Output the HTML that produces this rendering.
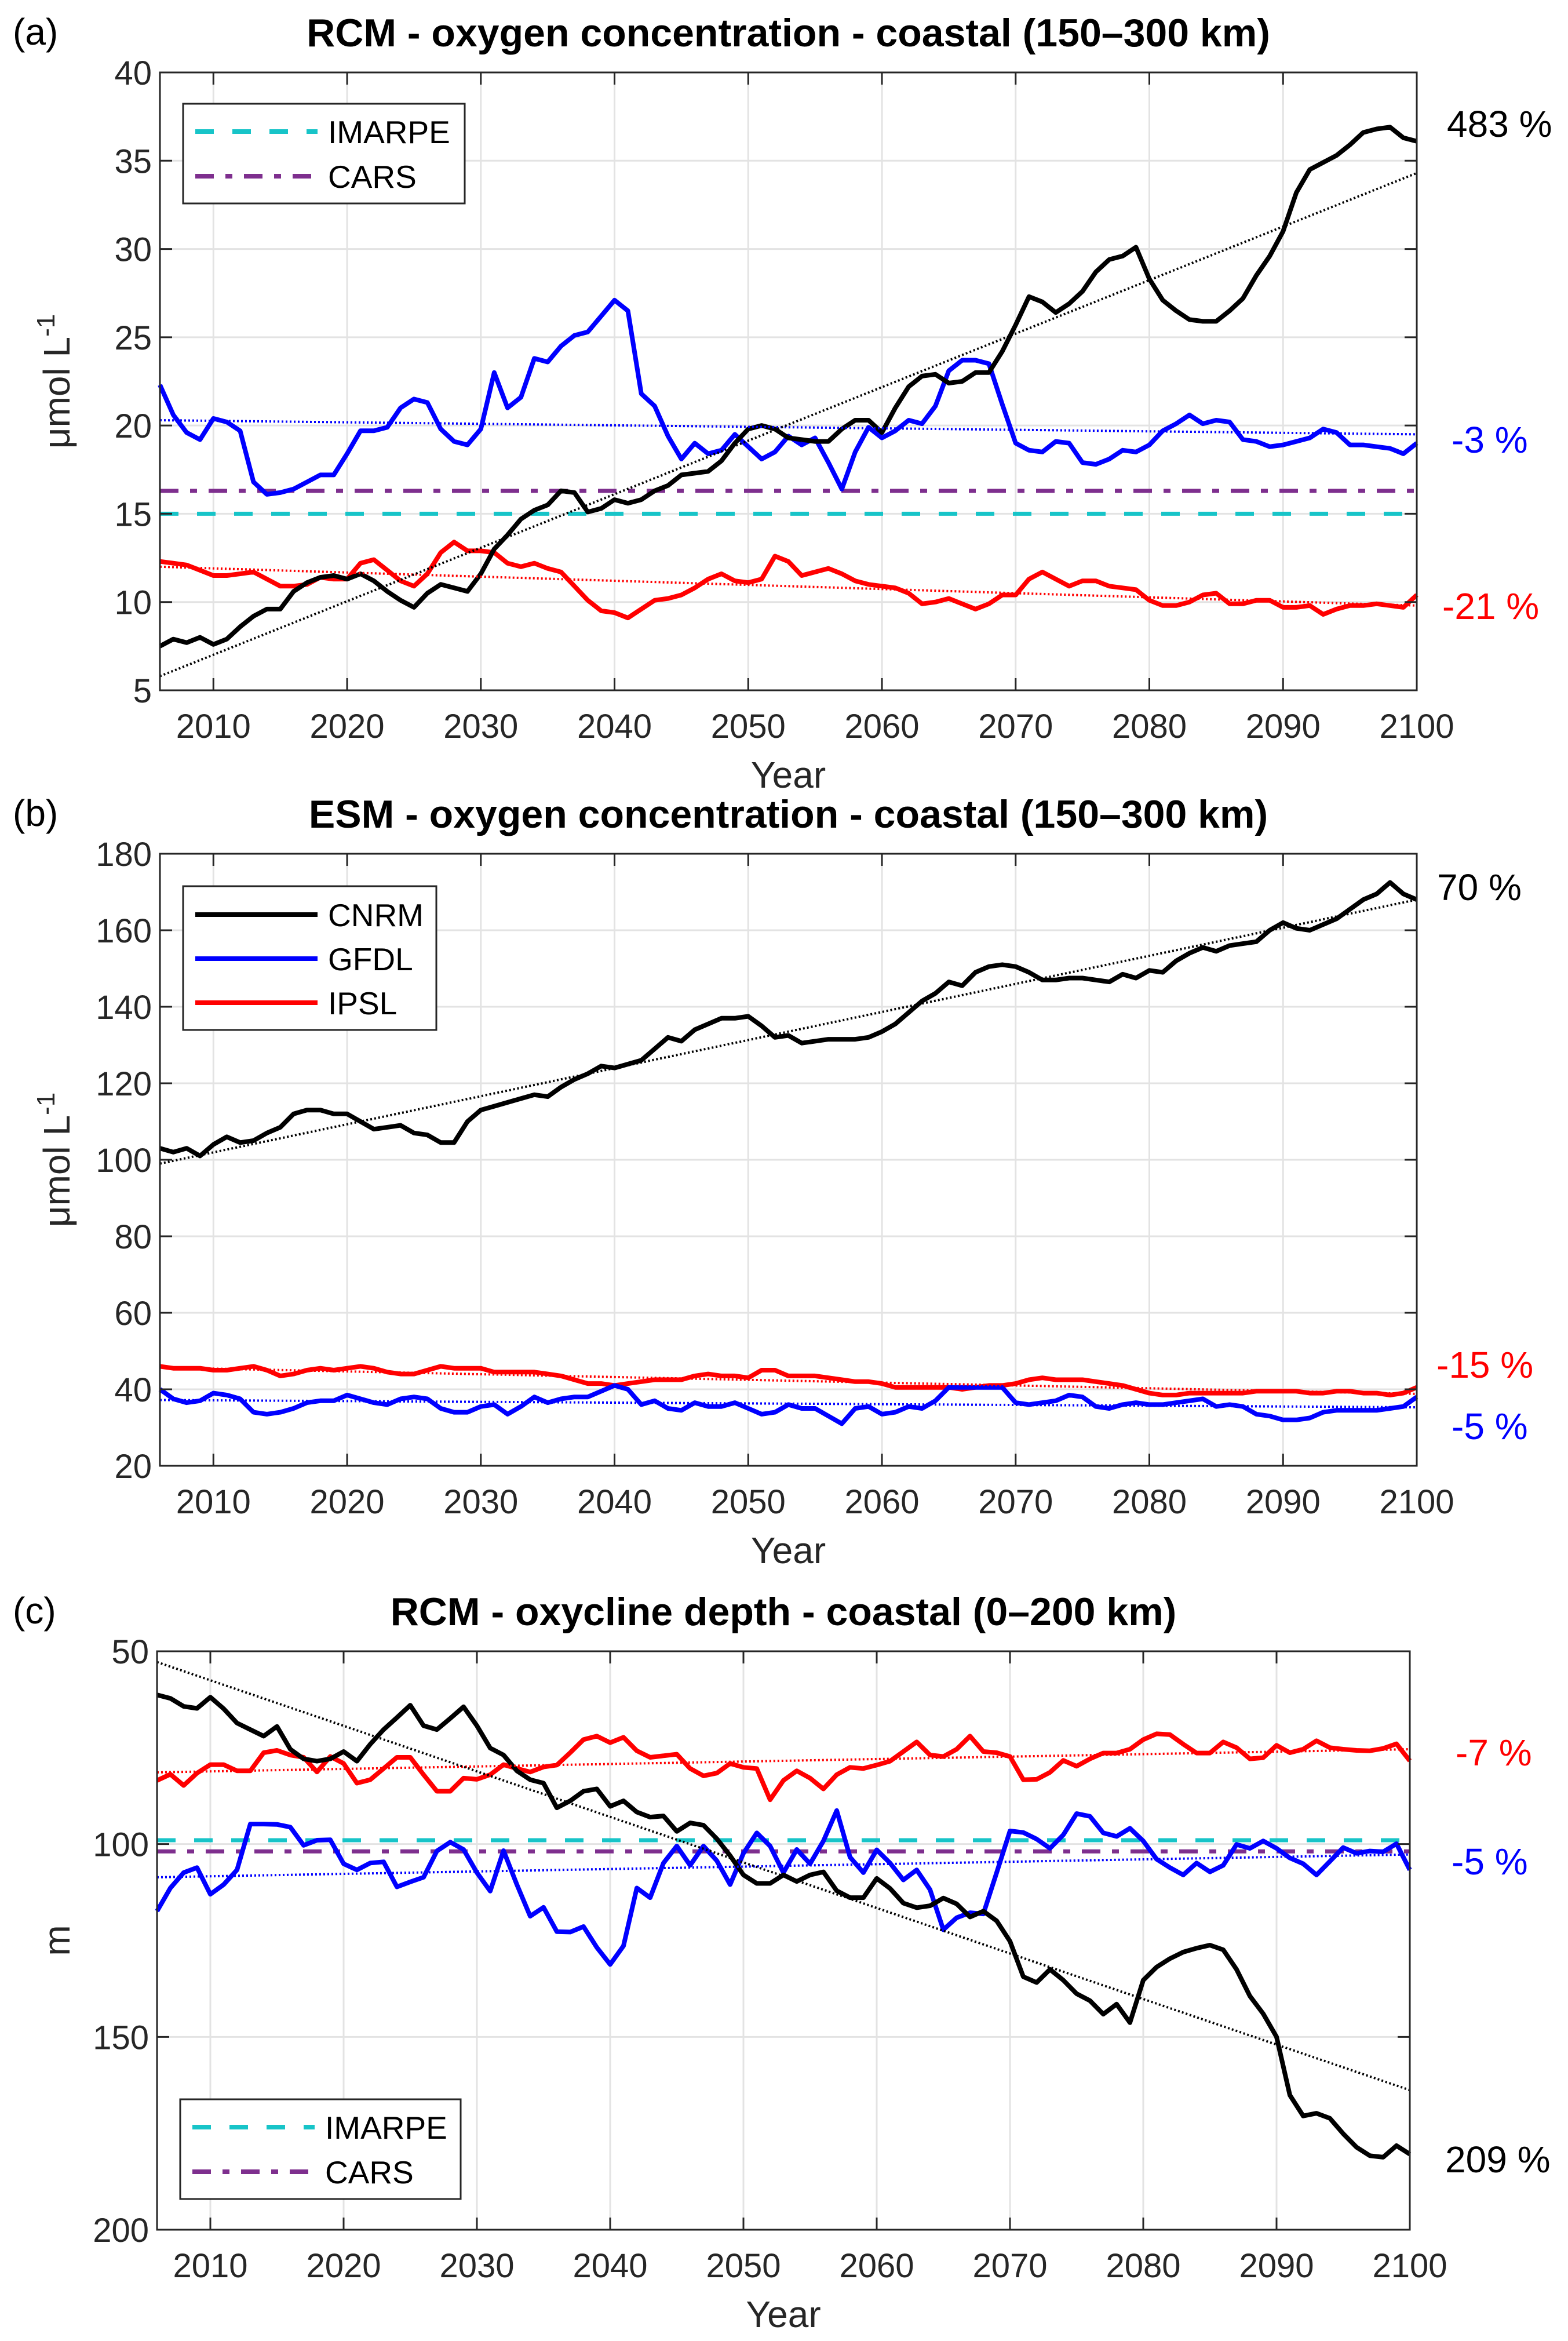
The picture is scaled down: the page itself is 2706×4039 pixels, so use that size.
<!DOCTYPE html>
<html><head><meta charset="utf-8"><style>
html,body{margin:0;padding:0;background:#fff;}
svg{display:block;font-family:"Liberation Sans",Arial,sans-serif;}
</style></head><body>
<svg id="fig" width="2706" height="4039" viewBox="0 0 2706 4039" xmlns="http://www.w3.org/2000/svg"></svg>
<script>
const years = []; for (let y = 2006; y <= 2100; y++) years.push(y);
const xTicks = [2010,2020,2030,2040,2050,2060,2070,2080,2090,2100];

// Panel (a) RCM oxygen
const aTicks = [5,10,15,20,25,30,35,40];
const aCNRM = [7.5,7.9,7.7,8.0,7.6,7.9,8.6,9.2,9.6,9.6, 10.6,11.1,11.4,11.5,11.3,11.6,11.2,10.6,10.1,9.7, 10.5,11.0,10.8,10.6,11.6,13.0,13.8,14.7,15.2,15.5, 16.3,16.2,15.1,15.3,15.8,15.6,15.8,16.3,16.6,17.2, 17.3,17.4,18.0,19.0,19.8,20.0,19.8,19.3,19.2,19.1, 19.1,19.8,20.3,20.3,19.6,21.0,22.2,22.8,22.9,22.4, 22.5,23.0,23.0,24.2,25.7,27.3,27.0,26.4,26.9,27.6, 28.7,29.4,29.6,30.1,28.3,27.1,26.5,26.0,25.9,25.9, 26.5,27.2,28.5,29.6,31.0,33.2,34.5,34.9,35.3,35.9, 36.6,36.8,36.9,36.3,36.1];
const aGFDL = [22.3,20.6,19.6,19.2,20.4,20.2,19.7,16.8,16.1,16.2, 16.4,16.8,17.2,17.2,18.4,19.7,19.7,19.9,21.0,21.5, 21.3,19.8,19.1,18.9,19.8,23.0,21.0,21.6,23.8,23.6, 24.5,25.1,25.3,26.2,27.1,26.5,21.8,21.1,19.4,18.1, 19.0,18.4,18.6,19.5,18.8,18.1,18.5,19.4,18.9,19.3, 17.9,16.4,18.5,19.9,19.3,19.7,20.3,20.1,21.1,23.1, 23.7,23.7,23.5,21.2,19.0,18.6,18.5,19.1,19.0,17.9, 17.8,18.1,18.6,18.5,18.9,19.7,20.1,20.6,20.1,20.3, 20.2,19.2,19.1,18.8,18.9,19.1,19.3,19.8,19.6,18.9, 18.9,18.8,18.7,18.4,19.0];
const aIPSL = [12.3,12.2,12.1,11.8,11.5,11.5,11.6,11.7,11.3,10.9, 10.9,11.0,11.4,11.3,11.3,12.2,12.4,11.8,11.2,10.9, 11.6,12.8,13.4,12.9,12.9,12.8,12.2,12.0,12.2,11.9, 11.7,10.9,10.1,9.5,9.4,9.1,9.6,10.1,10.2,10.4, 10.8,11.3,11.6,11.2,11.1,11.3,12.6,12.3,11.5,11.7, 11.9,11.6,11.2,11.0,10.9,10.8,10.5,9.9,10.0,10.2, 9.9,9.6,9.9,10.4,10.4,11.3,11.7,11.3,10.9,11.2, 11.2,10.9,10.8,10.7,10.1,9.8,9.8,10.0,10.4,10.5, 9.9,9.9,10.1,10.1,9.7,9.7,9.8,9.3,9.6,9.8, 9.8,9.9,9.8,9.7,10.4];
const aTrendCNRM = [5.8,34.3], aTrendGFDL = [20.3,19.5], aTrendIPSL = [12.0,9.8];
const aIMARPE = 15.0, aCARS = 16.3;

// Panel (b) ESM oxygen
const bTicks = [20,40,60,80,100,120,140,160,180];
const bCNRM = [103,102,103,101,104,106,104.5,105,107,108.5, 112,113,113,112,112,110,108,108.5,109,107, 106.5,104.5,104.5,110,113,114,115,116,117,116.5, 119,121,122.5,124.5,124,125,126,129,132,131, 134,135.5,137,137,137.5,135,132,132.5,130.5,131, 131.5,131.5,131.5,132,133.5,135.5,138.5,141.5,143.5,146.5, 145.5,149,150.5,151,150.5,149,147,147,147.5,147.5, 147,146.5,148.5,147.5,149.5,149,152,154,155.5,154.5, 156,156.5,157,160,162,160.5,160,161.5,163,165.5, 168,169.5,172.5,169.5,168];
const bGFDL = [40,37.5,36.5,37,39,38.5,37.5,34,33.5,34, 35,36.5,37,37,38.5,37.5,36.5,36,37.5,38, 37.5,35,34,34,35.5,36,33.5,35.5,38,36.5, 37.5,38,38,39.5,41,40,36,37,35,34.5, 36.5,35.5,35.5,36.5,35,33.5,34,36,35,35, 33,31,35,35.5,33.5,34,35.5,35,37,40.5, 40.5,40.5,40.5,40.5,36.5,36,36.5,37,38.5,38, 35.5,35,36,36.5,36,36,36.5,37,37.5,35.5, 36,35.5,33.5,33,32,32,32.5,34,34.5,34.5, 34.5,34.5,35,35.5,38];
const bIPSL = [46,45.5,45.5,45.5,45,45,45.5,46,45,43.5, 44,45,45.5,45,45.5,46,45.5,44.5,44,44, 45,46,45.5,45.5,45.5,44.5,44.5,44.5,44.5,44, 43.5,42.5,41.5,41.5,41,41.5,42,42.5,42.5,42.5, 43.5,44,43.5,43.5,43,45,45,43.5,43.5,43.5, 43,42.5,42,42,41.5,40.5,40.5,40.5,40.5,40.5, 40,40.5,41,41,41.5,42.5,43,42.5,42.5,42.5, 42,41.5,41,40,39,38.5,38.5,39,39,39, 39,39,39.5,39.5,39.5,39.5,39,39,39.5,39.5, 39,39,38.5,39,40.5];
const bTrendCNRM = [99,168], bTrendGFDL = [37.2,35.3], bTrendIPSL = [45.7,38.8];

// Panel (c) RCM oxycline depth
const cTicks = [50,100,150,200];
const cCNRM = [61.3,62.2,64.3,64.8,61.9,64.9,68.6,70.3,72,69.5, 75.4,77.9,78.5,77.9,76,78.5,74.1,70.3,67.2,64, 69.3,70.3,67.4,64.4,69.3,75.1,76.9,81,83.3,84.2, 90.6,88.8,86.3,85.7,90.2,88.8,91.7,93,92.7,96.7, 94.5,95.1,98.6,103,108,110.2,110.2,108,109.7,108, 107.2,112.1,113.9,113.9,108.9,111.5,115.3,116.5,116,114, 115.5,118.9,117.4,119.9,125.2,134.4,135.9,132.5,135.3,138.8, 140.6,144.1,141.5,146.3,135.3,131.9,129.7,128,127,126.2, 127.4,132.5,139.4,144,150,165.1,170.5,169.8,171.1,175.1, 178.6,180.8,181.2,178.2,180.4];
const cGFDL = [117.4,111.4,107.4,106.1,113,110.5,106.7,94.8,94.8,94.9, 95.6,100.3,99,98.9,105.1,106.7,104.9,104.6,111.1,109.8, 108.6,101.8,99.5,101.4,107.4,112.2,101.7,110.5,118.7,116.4, 122.7,122.8,121.4,126.8,131.2,126.4,111.4,113.9,104.9,100.5, 105.5,100.5,104.3,110.5,102.4,97.1,100.5,107.4,101.4,105.1, 99.2,91.3,103.4,107.4,101.5,104.9,109.3,106.7,111.8,122.2, 119.1,117.8,118.1,107.4,96.6,97,98.7,101.1,97.6,92.1, 92.8,97.1,98,95.9,99.2,103.9,106.1,108,104.9,107.2, 105.5,100.1,101.1,99.2,101.1,103.6,105.1,108,104.5,100.9, 102.4,101.8,102,99.9,106.7];
const cIPSL = [83.5,81.9,84.8,81.6,79.4,79.4,81,81,76.3,75.7, 76.9,77.5,81.3,77.3,79.1,84.2,83.3,80.4,77.5,77.5, 82,86.3,86.3,82.9,83.2,82,79.4,80.4,81.3,80, 79.5,76.3,72.9,72,73.7,72.3,75.8,77.5,77.1,76.7, 80.4,82.3,81.6,79.1,80.1,80.4,88.5,83.5,81,82.9, 85.7,82,80.1,80.4,79.5,78.5,76,73.5,76.9,77.3, 75.4,72,76,76.3,77.3,83.3,83.2,81.4,78.3,79.8, 77.9,76.4,76.4,75.4,72.9,71.4,71.6,74.1,76.4,76.4, 73.5,75,77.9,77.6,74.4,76.3,75.4,73.2,75,75.4, 75.7,75.8,75.2,74,78.4];
const cTrendCNRM = [52.8,163.8], cTrendGFDL = [108.6,102.7], cTrendIPSL = [81.4,75.4];
const cIMARPE = 99.0, cCARS = 101.9;

const NS = "http://www.w3.org/2000/svg";
const svg = document.getElementById('fig');
function mk(tag, attrs, parent) {
  const e = document.createElementNS(NS, tag);
  for (const k in attrs) e.setAttribute(k, attrs[k]);
  (parent || svg).appendChild(e);
  return e;
}
const BLK = "#000", BLU = "#0000ff", RED = "#ff0000", CYAN = "#17c4c8", PURP = "#7e2f8e";

function panel(P) {
  const g = mk('g', {});
  
  
  const xS = v => P.L + (v - 2006) / 94 * (P.R - P.L);
  const yS = v => P.rev ? P.T + (v - P.ymin) / (P.ymax - P.ymin) * (P.B - P.T)
                        : P.B - (v - P.ymin) / (P.ymax - P.ymin) * (P.B - P.T);
  xTicks.forEach(t => { const l = mk('line', {x1:xS(t),x2:xS(t),y1:P.T,y2:P.B,stroke:'#e3e3e3','stroke-width':3}, g);
      });
  P.yt.forEach(t => { const l = mk('line', {x1:P.L,x2:P.R,y1:yS(t),y2:yS(t),stroke:'#e3e3e3','stroke-width':3}, g);
      });
  const line = (arr, col, w, nm) => {
    const d = arr.map((v,i) => (i?'L':'M') + xS(years[i]).toFixed(1) + ' ' + yS(v).toFixed(1)).join(' ');
    const p = mk('path', {d, fill:'none', stroke:col, 'stroke-width':w, 'stroke-linejoin':'round'}, g);
     
  };
  const trend = (tr, col, nm) => {
    const l = mk('line', {x1:xS(2006),y1:yS(tr[0]),x2:xS(2100),y2:yS(tr[1]),stroke:col,'stroke-width':4,'stroke-dasharray':'3 4'}, g);
     
  };
  const hline = (v, col, dash, nm) => {
    const l = mk('line', {x1:P.L,x2:P.R,y1:yS(v),y2:yS(v),stroke:col,'stroke-width':7,'stroke-dasharray':dash}, g);
     
  };
  if (P.obs) { hline(P.obs[1], PURP, '32 20 12 20', 'cars-line'); hline(P.obs[0], CYAN, '32 32', 'imarpe-line'); }
  P.series.forEach(s => { line(s[0], s[1], 8, s[2]); });
  P.trends.forEach(s => trend(s[0], s[1], s[2]));
  const box = mk('rect', {x:P.L,y:P.T,width:P.R-P.L,height:P.B-P.T,fill:'none',stroke:'#262626','stroke-width':3}, g);
   
  xTicks.forEach(t => {
    mk('line',{x1:xS(t),x2:xS(t),y1:P.B,y2:P.B-21,stroke:'#262626','stroke-width':3},g);
    mk('line',{x1:xS(t),x2:xS(t),y1:P.T,y2:P.T+21,stroke:'#262626','stroke-width':3},g);
    const tx = mk('text',{x:xS(t),y:P.B+82,'text-anchor':'middle','font-size':58,fill:'#262626'},g);
    tx.textContent = t;  
  });
  P.yt.forEach(t => {
    mk('line',{x1:P.L,x2:P.L+21,y1:yS(t),y2:yS(t),stroke:'#262626','stroke-width':3},g);
    mk('line',{x1:P.R,x2:P.R-21,y1:yS(t),y2:yS(t),stroke:'#262626','stroke-width':3},g);
    const tx = mk('text',{x:P.L-14,y:yS(t)+21,'text-anchor':'end','font-size':58,fill:'#262626'},g);
    tx.textContent = t;  
  });
  const xl = mk('text',{x:(P.L+P.R)/2,y:P.B+168,'text-anchor':'middle','font-size':64,fill:'#262626'},g);
  xl.textContent = 'Year';  
  const yc = (P.T+P.B)/2;
  const yl = mk('text',{x:0,y:0,transform:`translate(120 ${yc}) rotate(-90)`,'text-anchor':'middle','font-size':64,fill:'#262626'},g);
  if (P.ylab === 'm') yl.textContent = 'm';
  else { yl.textContent = 'μmol L'; const ts = mk('tspan',{dy:-26,'font-size':44},yl); ts.textContent='-1'; }
   
  const tt = mk('text',{x:(P.L+P.R)/2,y:P.T-45,'text-anchor':'middle','font-size':68,'font-weight':'bold',fill:'#000'},g);
  tt.textContent = P.title;  
  const pl = mk('text',{x:22,y:P.T-48,'font-size':64,fill:'#000'},g);
  pl.textContent = P.tag;  
  P.ann.forEach(a => {
    const t = mk('text',{x:a[2],y:a[1]+22,'font-size':64,fill:a[3]},g);
    t.textContent = a[0];  
  });
  const Lg = P.leg;
  const lb = mk('rect',{x:Lg.x,y:Lg.y,width:Lg.w,height:Lg.h,fill:'#fff',stroke:'#262626','stroke-width':3},g);
   
  Lg.items.forEach((it,i) => {
    const yy = Lg.y + Lg.first + i*Lg.step;
    const l = mk('line',{x1:Lg.x+21,x2:Lg.x+232,y1:yy,y2:yy,stroke:it[1],'stroke-width':8,'stroke-dasharray':it[2]},g);
     
    const t = mk('text',{x:Lg.x+250,y:yy+20,'font-size':55,fill:'#000'},g);
    t.textContent = it[0];  
  });
}

panel({name:'panel-a', tag:'(a)', title:'RCM - oxygen concentration - coastal (150–300 km)', L:276,R:2445,T:125,B:1191, ymin:5,ymax:40, yt:aTicks, ylab:'u',
  obs:[aIMARPE,aCARS],
  series:[[aIPSL,RED,'ipsl-line'],[aGFDL,BLU,'gfdl-line'],[aCNRM,BLK,'cnrm-line']],
  trends:[[aTrendIPSL,RED,'ipsl-trend'],[aTrendGFDL,BLU,'gfdl-trend'],[aTrendCNRM,BLK,'cnrm-trend']],
  ann:[['483 %',214,2497,BLK],['-3 %',759,2505,BLU],['-21 %',1046,2489,RED]],
  leg:{x:316,y:179,w:486,h:172,first:48,step:77,items:[['IMARPE',CYAN,'32 32'],['CARS',PURP,'32 20 12 20']]}});
panel({name:'panel-b', tag:'(b)', title:'ESM - oxygen concentration - coastal (150–300 km)', L:276,R:2445,T:1473,B:2529, ymin:20,ymax:180, yt:bTicks, ylab:'u',
  series:[[bIPSL,RED,'ipsl-line'],[bGFDL,BLU,'gfdl-line'],[bCNRM,BLK,'cnrm-line']],
  trends:[[bTrendIPSL,RED,'ipsl-trend'],[bTrendGFDL,BLU,'gfdl-trend'],[bTrendCNRM,BLK,'cnrm-trend']],
  ann:[['70 %',1531,2480,BLK],['-15 %',2355,2479,RED],['-5 %',2461,2505,BLU]],
  leg:{x:316,y:1529,w:437,h:248,first:49,step:76,items:[['CNRM',BLK,'none'],['GFDL',BLU,'none'],['IPSL',RED,'none']]}});
panel({name:'panel-c', tag:'(c)', title:'RCM - oxycline depth - coastal (0–200 km)', L:271,R:2433,T:2849,B:3847, ymin:50,ymax:200, rev:true, yt:cTicks, ylab:'m',
  obs:[cIMARPE,cCARS],
  series:[[cIPSL,RED,'ipsl-line'],[cGFDL,BLU,'gfdl-line'],[cCNRM,BLK,'cnrm-line']],
  trends:[[cTrendIPSL,RED,'ipsl-trend'],[cTrendGFDL,BLU,'gfdl-trend'],[cTrendCNRM,BLK,'cnrm-trend']],
  ann:[['-7 %',3024,2512,RED],['-5 %',3212,2505,BLU],['209 %',3726,2494,BLK]],
  leg:{x:311,y:3622,w:484,h:172,first:48,step:77,items:[['IMARPE',CYAN,'32 32'],['CARS',PURP,'32 20 12 20']]}});
</script>
</body></html>
